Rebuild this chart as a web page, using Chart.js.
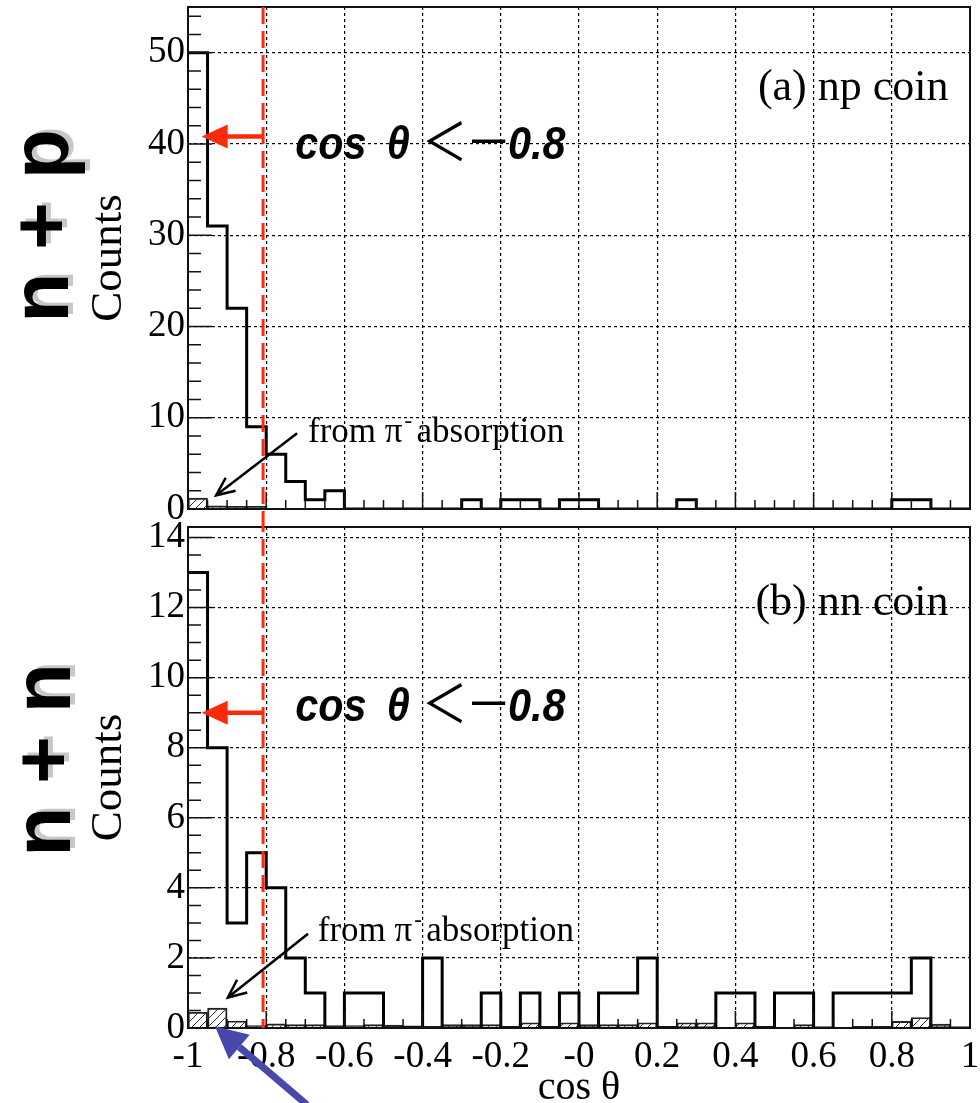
<!DOCTYPE html>
<html>
<head>
<meta charset="utf-8">
<script src="https://cdn.jsdelivr.net/npm/chart.js@4.4.1/dist/chart.umd.min.js"></script>
<style>
  html, body { margin: 0; padding: 0; background: #fff; }
  #wrap { position: relative; width: 980px; height: 1103px; overflow: hidden; }
  #npChart { position: absolute; left: 0; top: 0; }
  #nnChart { position: absolute; left: 0; top: 515px; }
</style>
</head>
<body>
<div id="wrap">
  <canvas id="npChart" width="980" height="540"></canvas>
  <canvas id="nnChart" width="980" height="588"></canvas>
</div>
<script>
// ===== DATA =====
const binEdges = [-1, -0.95, -0.9, -0.85, -0.8, -0.75, -0.7, -0.65, -0.6, -0.55,
  -0.5, -0.45, -0.4, -0.35, -0.3, -0.25, -0.2, -0.15, -0.1, -0.05,
  0, 0.05, 0.1, 0.15, 0.2, 0.25, 0.3, 0.35, 0.4, 0.45,
  0.5, 0.55, 0.6, 0.65, 0.7, 0.75, 0.8, 0.85, 0.9, 0.95, 1];

// (a) np coin
const npCounts = [50, 31, 22, 9, 6, 3, 1, 2, 0, 0,
  0, 0, 0, 0, 1, 0, 1, 1, 0, 1,
  1, 0, 0, 0, 0, 1, 0, 0, 0, 0,
  0, 0, 0, 0, 0, 0, 1, 1, 0, 0];
const npAbsorption = [1.2, 0.35, 0.3, 0.3, 0, 0, 0, 0, 0, 0,
  0, 0, 0, 0, 0, 0, 0, 0, 0, 0,
  0, 0, 0, 0, 0, 0, 0, 0, 0, 0,
  0, 0, 0, 0, 0, 0, 0, 0, 0, 0];

// (b) nn coin
const nnCounts = [13, 8, 3, 5, 4, 2, 1, 0, 1, 1,
  0, 0, 2, 0, 0, 1, 0, 1, 0, 1,
  0, 1, 1, 2, 0, 0, 0, 1, 1, 0,
  1, 1, 0, 1, 1, 1, 1, 2, 0, 0];
const nnAbsorption = [0.45, 0.57, 0.2, 0.07, 0.12, 0.1, 0.1, 0.07, 0.07, 0.1,
  0.08, 0.06, 0.05, 0.1, 0.1, 0.1, 0.05, 0.15, 0.05, 0.15,
  0.1, 0.1, 0.1, 0.15, 0.05, 0.15, 0.15, 0, 0.15, 0.05,
  0, 0.1, 0, 0, 0.05, 0.05, 0.19, 0.3, 0.11, 0];

const xTickValues = [-1, -0.8, -0.6, -0.4, -0.2, 0, 0.2, 0.4, 0.6, 0.8, 1];
const xTickLabels = ["-1", "-0.8", "-0.6", "-0.4", "-0.2", "-0", "0.2", "0.4", "0.6", "0.8", "1"];
const npYTicks = [0, 10, 20, 30, 40, 50];
const nnYTicks = [0, 2, 4, 6, 8, 10, 12, 14];

const cutLineX = -0.808;
const RED = "#ff2a0a";
const SERIF = '"Liberation Serif", "Times New Roman", serif';

// hatch like ROOT fill style 3004
const hatch = (function () {
  const c = document.createElement("canvas");
  c.width = 8; c.height = 8;
  const g = c.getContext("2d");
  g.strokeStyle = "#333";
  g.lineWidth = 1;
  g.beginPath();
  g.moveTo(0, 8); g.lineTo(8, 0);
  g.moveTo(-2, 2); g.lineTo(2, -2);
  g.moveTo(6, 10); g.lineTo(10, 6);
  g.stroke();
  return g.createPattern(c, "repeat");
})();

function stepPoints(counts) {
  return binEdges.map((e, i) => ({ x: e, y: counts[Math.min(i, counts.length - 1)] }));
}
function barPoints(values) {
  return values.map((v, i) => ({ x: (binEdges[i] + binEdges[i + 1]) / 2, y: v > 0 ? v : null }));
}
function noPad(s) {
  s.paddingTop = 0; s.paddingBottom = 0; s.paddingLeft = 0; s.paddingRight = 0;
}

// ===== PLUGINS =====
const frameTicks = {
  id: "frameTicks",
  afterDatasetsDraw(chart, args, o) {
    const { ctx, chartArea: a, scales: { x, y } } = chart;
    ctx.save();
    ctx.strokeStyle = "#111";
    ctx.lineWidth = 1.5;
    ctx.beginPath();
    for (let v = x.min; v <= x.max + 1e-9; v += o.xMinor) {
      const px = x.getPixelForValue(v);
      const major = Math.abs(v / o.xMajor - Math.round(v / o.xMajor)) < 1e-6;
      ctx.moveTo(px, a.bottom);
      ctx.lineTo(px, a.bottom - (major ? 17 : 9));
    }
    for (let v = 0; v <= y.max + 1e-9; v += o.yMinor) {
      const py = y.getPixelForValue(v);
      const major = Math.abs(v / o.yMajor - Math.round(v / o.yMajor)) < 1e-6;
      ctx.moveTo(a.left, py);
      ctx.lineTo(a.left + (major ? 24 : 13), py);
    }
    ctx.stroke();
    ctx.lineWidth = 2;
    ctx.strokeRect(a.left, a.top, a.width, a.height);
    ctx.restore();
  }
};

function arrowHeadOpen(ctx, x0, y0, x1, y1, len, ang) {
  const t = Math.atan2(y1 - y0, x1 - x0);
  ctx.beginPath();
  ctx.moveTo(x1 - len * Math.cos(t - ang), y1 - len * Math.sin(t - ang));
  ctx.lineTo(x1, y1);
  ctx.lineTo(x1 - len * Math.cos(t + ang), y1 - len * Math.sin(t + ang));
  ctx.stroke();
}

const notes = {
  id: "notes",
  afterDraw(chart, args, o) {
    const { ctx, chartArea: a, scales: { x, y } } = chart;
    const px = v => x.getPixelForValue(v);
    const py = v => y.getPixelForValue(v);
    ctx.save();

    // dashed cut line, runs across both panels
    const cx = px(cutLineX);
    ctx.strokeStyle = RED;
    ctx.lineWidth = 3;
    ctx.setLineDash([17, 7]);
    ctx.beginPath();
    ctx.moveTo(cx, o.topPanel ? a.top : 0);
    ctx.lineTo(cx, o.topPanel ? a.bottom + 6 : a.bottom);
    ctx.stroke();
    ctx.setLineDash([]);

    // red arrow
    const ay = py(o.arrowY), tip = px(o.arrowTipX);
    ctx.lineWidth = 4.5;
    ctx.beginPath();
    ctx.moveTo(cx, ay);
    ctx.lineTo(tip + 20, ay);
    ctx.stroke();
    ctx.fillStyle = RED;
    ctx.beginPath();
    ctx.moveTo(tip, ay);
    ctx.lineTo(tip + 26, ay - 12);
    ctx.lineTo(tip + 26, ay + 12);
    ctx.closePath();
    ctx.fill();

    // cos θ < -0.8
    const lx = px(o.cutText[0]), ly = py(o.cutText[1]);
    ctx.save();
    ctx.translate(lx, ly);
    ctx.scale(0.88, 1);
    ctx.fillStyle = "#000";
    ctx.textAlign = "left";
    ctx.textBaseline = "alphabetic";
    ctx.font = 'italic bold 47px "Liberation Sans", Arial, sans-serif';
    ctx.fillText("cos", 0, 0);
    ctx.fillText("θ", 104, 0);
    ctx.font = '52px "Noto Sans CJK JP", sans-serif';
    ctx.textAlign = "center";
    ctx.fillText("＜", 170, 2);
    ctx.fillText("－", 220, 2);
    ctx.textAlign = "left";
    ctx.font = 'italic bold 47px "Liberation Sans", Arial, sans-serif';
    ctx.fillText("0.8", 242, 0);
    ctx.restore();

    // panel label
    ctx.fillStyle = "#000";
    ctx.textAlign = "right";
    ctx.textBaseline = "alphabetic";
    ctx.font = "44px " + SERIF;
    ctx.fillText(o.panelLabel, px(o.panelAt[0]), py(o.panelAt[1]));

    // from π- absorption
    let nx = px(o.noteAt[0]);
    const ny = py(o.noteAt[1]);
    ctx.textAlign = "left";
    ctx.font = "35px " + SERIF;
    ctx.fillText("from π", nx, ny);
    nx += ctx.measureText("from π").width + 2;
    ctx.font = "23px " + SERIF;
    ctx.fillText("-", nx, ny - 14);
    nx += 12;
    ctx.font = "35px " + SERIF;
    ctx.fillText("absorption", nx, ny);

    ctx.strokeStyle = "#000";
    ctx.lineWidth = 2.5;
    const f0x = px(o.noteFrom[0]), f0y = py(o.noteFrom[1]);
    const f1x = px(o.noteTo[0]), f1y = py(o.noteTo[1]);
    ctx.beginPath();
    ctx.moveTo(f0x, f0y);
    ctx.lineTo(f1x, f1y);
    ctx.stroke();
    arrowHeadOpen(ctx, f0x, f0y, f1x, f1y, 20, 0.42);

    // blue arrow
    if (o.blueFrom) {
      const b0x = px(o.blueFrom[0]), b0y = py(o.blueFrom[1]);
      const b1x = px(o.blueTo[0]), b1y = py(o.blueTo[1]);
      const t = Math.atan2(b1y - b0y, b1x - b0x);
      const hl = 32, hw = 16;
      const bx = b1x - hl * Math.cos(t), by = b1y - hl * Math.sin(t);
      ctx.strokeStyle = "#4848ac";
      ctx.fillStyle = "#4848ac";
      ctx.lineWidth = 7;
      ctx.beginPath();
      ctx.moveTo(b0x, b0y);
      ctx.lineTo(bx, by);
      ctx.stroke();
      ctx.beginPath();
      ctx.moveTo(b1x, b1y);
      ctx.lineTo(bx + hw * Math.sin(t), by - hw * Math.cos(t));
      ctx.lineTo(bx - hw * Math.sin(t), by + hw * Math.cos(t));
      ctx.closePath();
      ctx.fill();
    }

    // big side label
    ctx.save();
    ctx.translate(o.sideAt[0], o.sideAt[1]);
    ctx.rotate(-Math.PI / 2);
    ctx.textAlign = "center";
    ctx.textBaseline = "alphabetic";
    ctx.font = 'bold 82px "Liberation Sans", Arial, sans-serif';
    ctx.shadowColor = "rgba(0,0,0,0.22)";
    ctx.shadowOffsetX = 5;
    ctx.shadowOffsetY = -3;
    ctx.fillStyle = "#000";
    ctx.fillText(o.sideText, 0, 0);
    ctx.restore();

    ctx.restore();
  }
};

// ===== CHARTS =====
function makeChart(canvasId, cfg) {
  const ctx = document.getElementById(canvasId).getContext("2d");
  return new Chart(ctx, {
    type: "bar",
    data: {
      datasets: [
        {
          type: "line",
          label: "all",
          data: stepPoints(cfg.counts),
          stepped: "before",
          borderColor: "#000",
          borderWidth: 3,
          pointRadius: 0,
          fill: false,
          order: 0
        },
        {
          type: "bar",
          label: "from π- absorption",
          data: barPoints(cfg.absorption),
          backgroundColor: hatch,
          borderColor: "#222",
          borderWidth: 1.3,
          barPercentage: 1,
          categoryPercentage: 1,
          order: 1
        }
      ]
    },
    options: {
      responsive: false,
      animation: false,
      devicePixelRatio: 1,
      layout: { autoPadding: false, padding: { top: cfg.padTop, right: 10, bottom: 0, left: 0 } },
      plugins: {
        legend: { display: false },
        tooltip: { enabled: false },
        frameTicks: { xMinor: 0.05, xMajor: 0.2, yMinor: cfg.yMinor, yMajor: cfg.yMajor },
        notes: cfg.notes
      },
      scales: {
        x: {
          type: "linear",
          min: -1,
          max: 1,
          offset: false,
          afterBuildTicks: s => { s.ticks = xTickValues.map(v => ({ value: v })); },
          afterFit: s => { s.height = cfg.xHeight; noPad(s); },
          ticks: {
            display: cfg.showX,
            autoSkip: false,
            maxRotation: 0,
            padding: 7,
            color: "#000",
            font: { family: SERIF, size: 37 },
            callback: (v, i) => xTickLabels[i]
          },
          grid: { color: "#000", lineWidth: 1.2, drawTicks: false, offset: false },
          border: { display: false, dash: [3, 3] },
          title: {
            display: cfg.showX,
            text: "cos θ",
            color: "#000",
            font: { family: SERIF, size: 40, lineHeight: 1 },
            padding: { top: 0, bottom: -5 }
          }
        },
        y: {
          min: 0,
          max: cfg.yMax,
          afterBuildTicks: s => { s.ticks = cfg.yTicks.map(v => ({ value: v })); },
          afterFit: s => { s.width = 188; noPad(s); },
          ticks: { padding: 3, color: "#000", font: { family: SERIF, size: 37 } },
          grid: { color: "#000", lineWidth: 1.2, drawTicks: false },
          border: { display: false, dash: [3, 3] },
          title: {
            display: true,
            text: "Counts",
            color: "#000",
            font: { family: SERIF, size: 45, lineHeight: 1 },
            padding: { top: 87, bottom: 0 }
          }
        }
      }
    },
    plugins: [frameTicks, notes]
  });
}

makeChart("npChart", {
  counts: npCounts,
  absorption: npAbsorption,
  yMax: 55,
  yTicks: npYTicks,
  yMinor: 2,
  yMajor: 10,
  padTop: 7,
  xHeight: 31,
  showX: false,
  notes: {
    topPanel: true,
    arrowY: 40.8,
    arrowTipX: -0.965,
    cutText: [-0.726, 38.4],
    panelLabel: "(a) np coin",
    panelAt: [0.945, 44.8],
    noteAt: [-0.693, 7.37],
    noteFrom: [-0.721, 8.3],
    noteTo: [-0.928, 1.5],
    sideText: "n + p",
    sideAt: [68, 226]
  }
});

makeChart("nnChart", {
  counts: nnCounts,
  absorption: nnAbsorption,
  yMax: 14.3,
  yTicks: nnYTicks,
  yMinor: 0.5,
  yMajor: 2,
  padTop: 12,
  xHeight: 75,
  showX: true,
  notes: {
    topPanel: false,
    arrowY: 9,
    arrowTipX: -0.965,
    cutText: [-0.726, 8.76],
    panelLabel: "(b) nn coin",
    panelAt: [0.945, 11.8],
    noteAt: [-0.668, 2.47],
    noteFrom: [-0.693, 2.69],
    noteTo: [-0.898, 0.87],
    blueFrom: [-0.696, -2.19],
    blueTo: [-0.931, 0.05],
    sideText: "n + n",
    sideAt: [70, 245]
  }
});
</script>
</body>
</html>
